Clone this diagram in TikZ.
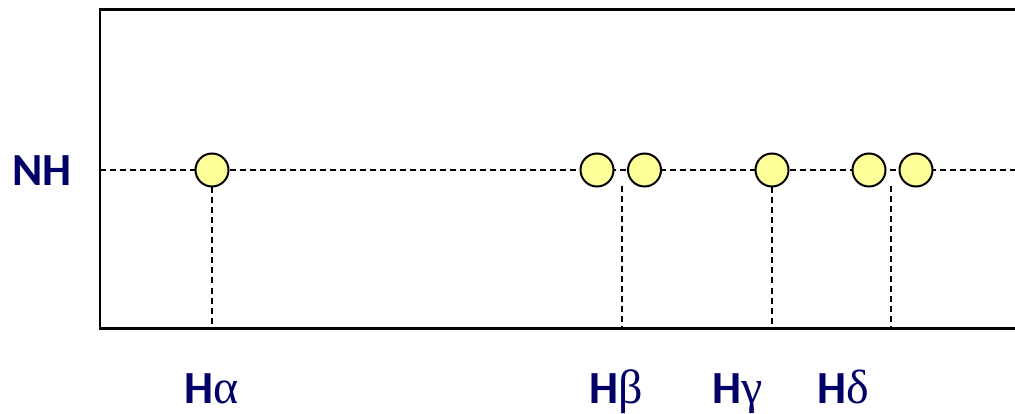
\documentclass[tikz,border=0pt]{standalone}
\usepackage{fontspec}
\setmainfont{Carlito}
\newfontfamily\grk{Liberation Serif}
\definecolor{navy}{RGB}{0,0,102}
\definecolor{peak}{RGB}{255,255,153}
\newcommand{\gk}[1]{{\grk\mdseries\fontsize{48}{48}\selectfont #1}}
\begin{document}
\begin{tikzpicture}[x=1pt,y=-1pt,
  frame/.style={line width=2.2pt,black},
  guide/.style={line width=1.8pt,dash pattern=on 6pt off 4pt},
  peaknode/.style={circle,draw=black,line width=2pt,fill=peak,minimum size=33pt,inner sep=0pt},
  lab/.style={text=navy,font=\fontsize{46}{46}\selectfont\bfseries,inner sep=0pt,anchor=base}]
\useasboundingbox (0,0) rectangle (1015,414);
% frame (no right edge)
\coordinate (tl) at (1015,9.5);
\coordinate (tlc) at (100,9.5);
\coordinate (blc) at (100,328.5);
\coordinate (br) at (1015,328.5);
\draw[frame] (tl) -- (tlc) -- (blc) -- (br);
% NH line
\coordinate (nhl) at (100,170);
\coordinate (nhr) at (1015,170);
\draw[guide] (nhl) -- (nhr);
% peaks
\node[peaknode] (p1) at (212,170) {};
\node[peaknode] (p2) at (597,170) {};
\node[peaknode] (p3) at (644.5,170) {};
\node[peaknode] (p4) at (772,170) {};
\node[peaknode] (p5) at (869,170) {};
\node[peaknode] (p6) at (916,170) {};
% vertical guides
\coordinate (a2) at (212,328.5);
\coordinate (b1) at (622,186); \coordinate (b2) at (622,328.5);
\coordinate (c2) at (772,328.5);
\coordinate (d1) at (891,186); \coordinate (d2) at (891,328.5);
\draw[guide] (p1.south) -- (a2);
\draw[guide] (b1) -- (b2);
\draw[guide] (p4.south) -- (c2);
\draw[guide] (d1) -- (d2);
% labels
\node[lab] (nh) at (42,186) {NH};
\node[lab] (ha) at (212,403) {H\gk{α}};
\node[lab] (hb) at (616,403) {H\gk{β}};
\node[lab] (hg) at (738,403) {H\gk{γ}};
\node[lab] (hd) at (843,403) {H\gk{δ}};
\end{tikzpicture}
\end{document}
